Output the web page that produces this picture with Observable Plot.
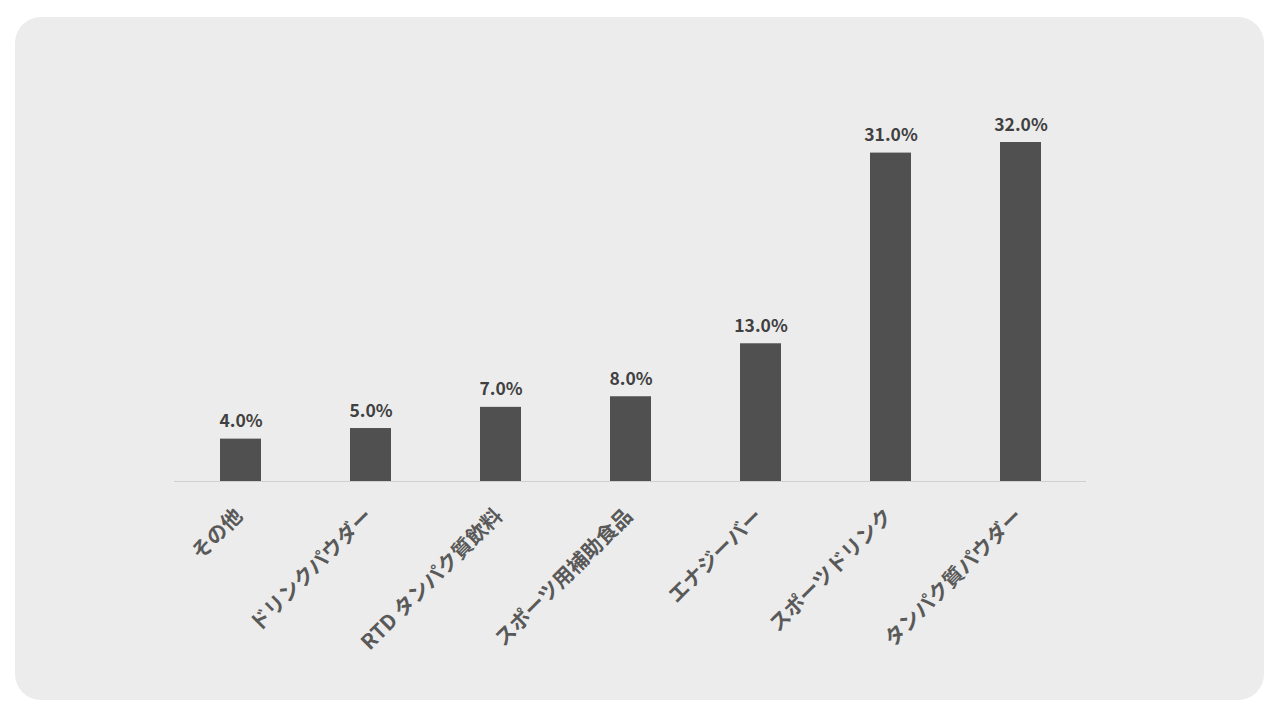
<!DOCTYPE html>
<html>
<head>
<meta charset="utf-8">
<script src="https://cdn.jsdelivr.net/npm/d3@7"></script>
<script src="https://cdn.jsdelivr.net/npm/@observablehq/plot@0.6"></script>
<style>
  html, body { margin: 0; padding: 0; background: #ffffff; }
  #panel {
    position: absolute; left: 15px; top: 17px; width: 1249px; height: 683px;
    background: #ececec; border-radius: 26px; overflow: hidden;
  }
</style>
</head>
<body>
<div id="panel"></div>
<script>
const categories = ["その他", "ドリンクパウダー", "RTD タンパク質飲料", "スポーツ用補助食品", "エナジーバー", "スポーツドリンク", "タンパク質パウダー"];
const values = [4.0, 5.0, 7.0, 8.0, 13.0, 31.0, 32.0];

const data = categories.map((c, i) => ({category: c, value: values[i]}));

const fontFamily = "'Noto Sans CJK JP', 'Open Sans', sans-serif";

const chart = Plot.plot({
  width: 1249,
  height: 683,
  marginLeft: 159,
  marginRight: 178,
  marginTop: 125,
  marginBottom: 219,
  style: {background: "transparent", fontFamily},
  x: {domain: categories, paddingInner: 0.685, paddingOuter: 0.3425, axis: null},
  y: {domain: [0, 32], axis: null},
  marks: [
    Plot.barY(data, {x: "category", y: "value", fill: "#505050"}),
    Plot.ruleY([0], {stroke: "#d0d0d0", strokeWidth: 1}),
    Plot.text(data, {
      x: "category", y: "value",
      text: d => d.value.toFixed(1) + "%",
      lineAnchor: "bottom", dy: -12,
      fontSize: 17.5, fontWeight: "bold", fill: "#404040"
    }),
    Plot.text(data, {
      x: "category", y: () => 0,
      text: "category",
      rotate: -45, textAnchor: "end", lineAnchor: "middle",
      dy: 31, dx: -2,
      fontSize: 20.5, fontWeight: 600, fill: "#595959"
    })
  ]
});
document.getElementById("panel").appendChild(chart);
</script>
</body>
</html>
